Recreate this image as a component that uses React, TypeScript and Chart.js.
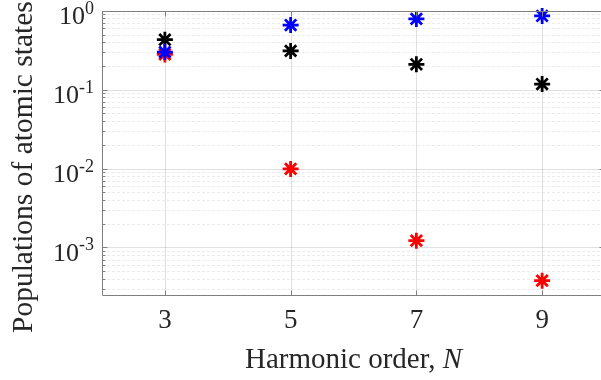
import React, { useEffect, useRef } from 'react';
import { Chart, registerables } from 'chart.js';

Chart.register(...registerables);

// Harmonic orders and the populations of the three atomic states
const harmonicOrders = [3, 5, 7, 9];
const popBlue = [0.3, 0.66, 0.79, 0.86];
const popBlack = [0.43, 0.31, 0.21, 0.118];
const popRed = [0.28, 0.0099, 0.00122, 0.00038];

// Axis ticks and ranges
const xTickValues = [3, 5, 7, 9];
const yDecadeExponents = [0, -1, -2, -3];
const xMin = 2;
const xMax = 10;
const yMin = 2.5e-4;
const yMax = 1;

const xTitle = 'Harmonic order, ';
const xTitleItalic = 'N';
const yTitle = 'Populations of atomic states';

const SERIF = '"Liberation Serif", "Times New Roman", serif';
const TEXT = '#262626';
const AXIS = '#808080';

const framePlugin = {
  id: 'frame',
  beforeDatasetsDraw(chart: any) {
    const { ctx, chartArea: a, scales } = chart;
    const x = scales.x;
    const y = scales.y;
    ctx.save();
    ctx.lineWidth = 1;

    // minor horizontal grid (dashed)
    ctx.strokeStyle = 'rgba(0,0,0,0.08)';
    ctx.setLineDash([3, 2]);
    for (let e = -4; e <= 0; e++) {
      for (let m = 2; m <= 9; m++) {
        const v = m * Math.pow(10, e);
        if (v < yMin || v > yMax) continue;
        const py = Math.round(y.getPixelForValue(v)) + 0.5;
        ctx.beginPath();
        ctx.moveTo(a.left, py);
        ctx.lineTo(a.right, py);
        ctx.stroke();
      }
    }
    ctx.setLineDash([]);

    // major grid
    ctx.strokeStyle = 'rgba(0,0,0,0.12)';
    for (const e of yDecadeExponents) {
      const py = Math.round(y.getPixelForValue(Math.pow(10, e))) + 0.5;
      ctx.beginPath();
      ctx.moveTo(a.left, py);
      ctx.lineTo(a.right, py);
      ctx.stroke();
    }
    for (const t of xTickValues) {
      const px = Math.round(x.getPixelForValue(t)) + 0.5;
      ctx.beginPath();
      ctx.moveTo(px, a.top);
      ctx.lineTo(px, a.bottom);
      ctx.stroke();
    }
    ctx.restore();
  },
  afterDatasetsDraw(chart: any) {
    const { ctx, chartArea: a, scales } = chart;
    const x = scales.x;
    const y = scales.y;
    ctx.save();

    // axes box
    ctx.strokeStyle = AXIS;
    ctx.lineWidth = 1;
    const L = Math.round(a.left) + 0.5;
    const R = Math.round(a.right) - 0.5;
    const T = Math.round(a.top) + 0.5;
    const B = Math.round(a.bottom) + 0.5;
    ctx.beginPath();
    ctx.rect(L, T, R - L, B - T);
    ctx.stroke();

    // inward ticks on the log axis
    for (let e = -4; e <= 0; e++) {
      for (let m = 1; m <= 9; m++) {
        const v = m * Math.pow(10, e);
        if (v < yMin || v > yMax) continue;
        const len = m === 1 ? 5 : 3;
        const py = Math.round(y.getPixelForValue(v)) + 0.5;
        ctx.beginPath();
        ctx.moveTo(L, py);
        ctx.lineTo(L + len, py);
        ctx.moveTo(R, py);
        ctx.lineTo(R - len, py);
        ctx.stroke();
      }
    }
    // inward ticks on the harmonic axis
    for (const t of xTickValues) {
      const px = Math.round(x.getPixelForValue(t)) + 0.5;
      ctx.beginPath();
      ctx.moveTo(px, B);
      ctx.lineTo(px, B - 5);
      ctx.moveTo(px, T);
      ctx.lineTo(px, T + 5);
      ctx.stroke();
    }

    ctx.fillStyle = TEXT;
    ctx.textBaseline = 'alphabetic';

    // x tick labels
    ctx.font = `27px ${SERIF}`;
    ctx.textAlign = 'center';
    for (const t of xTickValues) {
      ctx.fillText(String(t), x.getPixelForValue(t), a.bottom + 33);
    }

    // y tick labels: 10 with a raised exponent
    ctx.textAlign = 'left';
    for (const e of yDecadeExponents) {
      const py = y.getPixelForValue(Math.pow(10, e));
      const sup = e < 0 ? `-${-e}` : String(e);
      ctx.font = `18px ${SERIF}`;
      const supW = ctx.measureText(sup).width;
      ctx.font = `26px ${SERIF}`;
      const baseW = ctx.measureText('10').width;
      const x0 = a.left - 8 - supW - baseW;
      ctx.fillText('10', x0, py + 13.5);
      ctx.font = `18px ${SERIF}`;
      ctx.fillText(sup, x0 + baseW, py + 3);
    }

    // x axis title with italic symbol
    ctx.font = `29px ${SERIF}`;
    const w1 = ctx.measureText(xTitle).width;
    ctx.font = `italic 29px ${SERIF}`;
    const w2 = ctx.measureText(xTitleItalic).width;
    const cx = (a.left + a.right) / 2;
    const sx = cx - (w1 + w2) / 2;
    ctx.font = `29px ${SERIF}`;
    ctx.fillText(xTitle, sx, 368);
    ctx.font = `italic 29px ${SERIF}`;
    ctx.fillText(xTitleItalic, sx + w1, 368);

    // y axis title, reading bottom to top
    ctx.font = `29.5px ${SERIF}`;
    ctx.translate(32, 333);
    ctx.rotate(-Math.PI / 2);
    ctx.fillText(yTitle, 0, 0);

    ctx.restore();
  },
};

export default function App() {
  const canvasRef = useRef<HTMLCanvasElement | null>(null);

  useEffect(() => {
    document.body.style.margin = '0';
    const canvas = canvasRef.current;
    if (!canvas) return;

    const series = (values: number[], color: string) => ({
      data: harmonicOrders.map((n, i) => ({ x: n, y: values[i] })),
      showLine: false,
      pointStyle: 'star' as const,
      pointRadius: 8,
      pointBorderWidth: 2.8,
      borderColor: color,
      backgroundColor: color,
      clip: false as const,
    });

    const chart = new Chart(canvas, {
      type: 'scatter',
      data: {
        datasets: [
          series(popBlue, '#0000ff'),
          series(popRed, '#ff0000'),
          series(popBlack, '#000000'),
        ],
      },
      options: {
        animation: false,
        responsive: false,
        devicePixelRatio: 1,
        layout: { padding: { left: 102, top: 9, right: 15, bottom: 85 } },
        scales: {
          x: { type: 'linear', min: xMin, max: xMax, display: false },
          y: { type: 'logarithmic', min: yMin, max: yMax, display: false },
        },
        plugins: {
          legend: { display: false },
          tooltip: { enabled: false },
        },
      },
      plugins: [framePlugin],
    });

    return () => chart.destroy();
  }, []);

  return (
    <div style={{ width: 601, height: 380, overflow: 'hidden', position: 'relative', background: '#fff' }}>
      <canvas ref={canvasRef} width={620} height={380} style={{ display: 'block' }} />
    </div>
  );
}
